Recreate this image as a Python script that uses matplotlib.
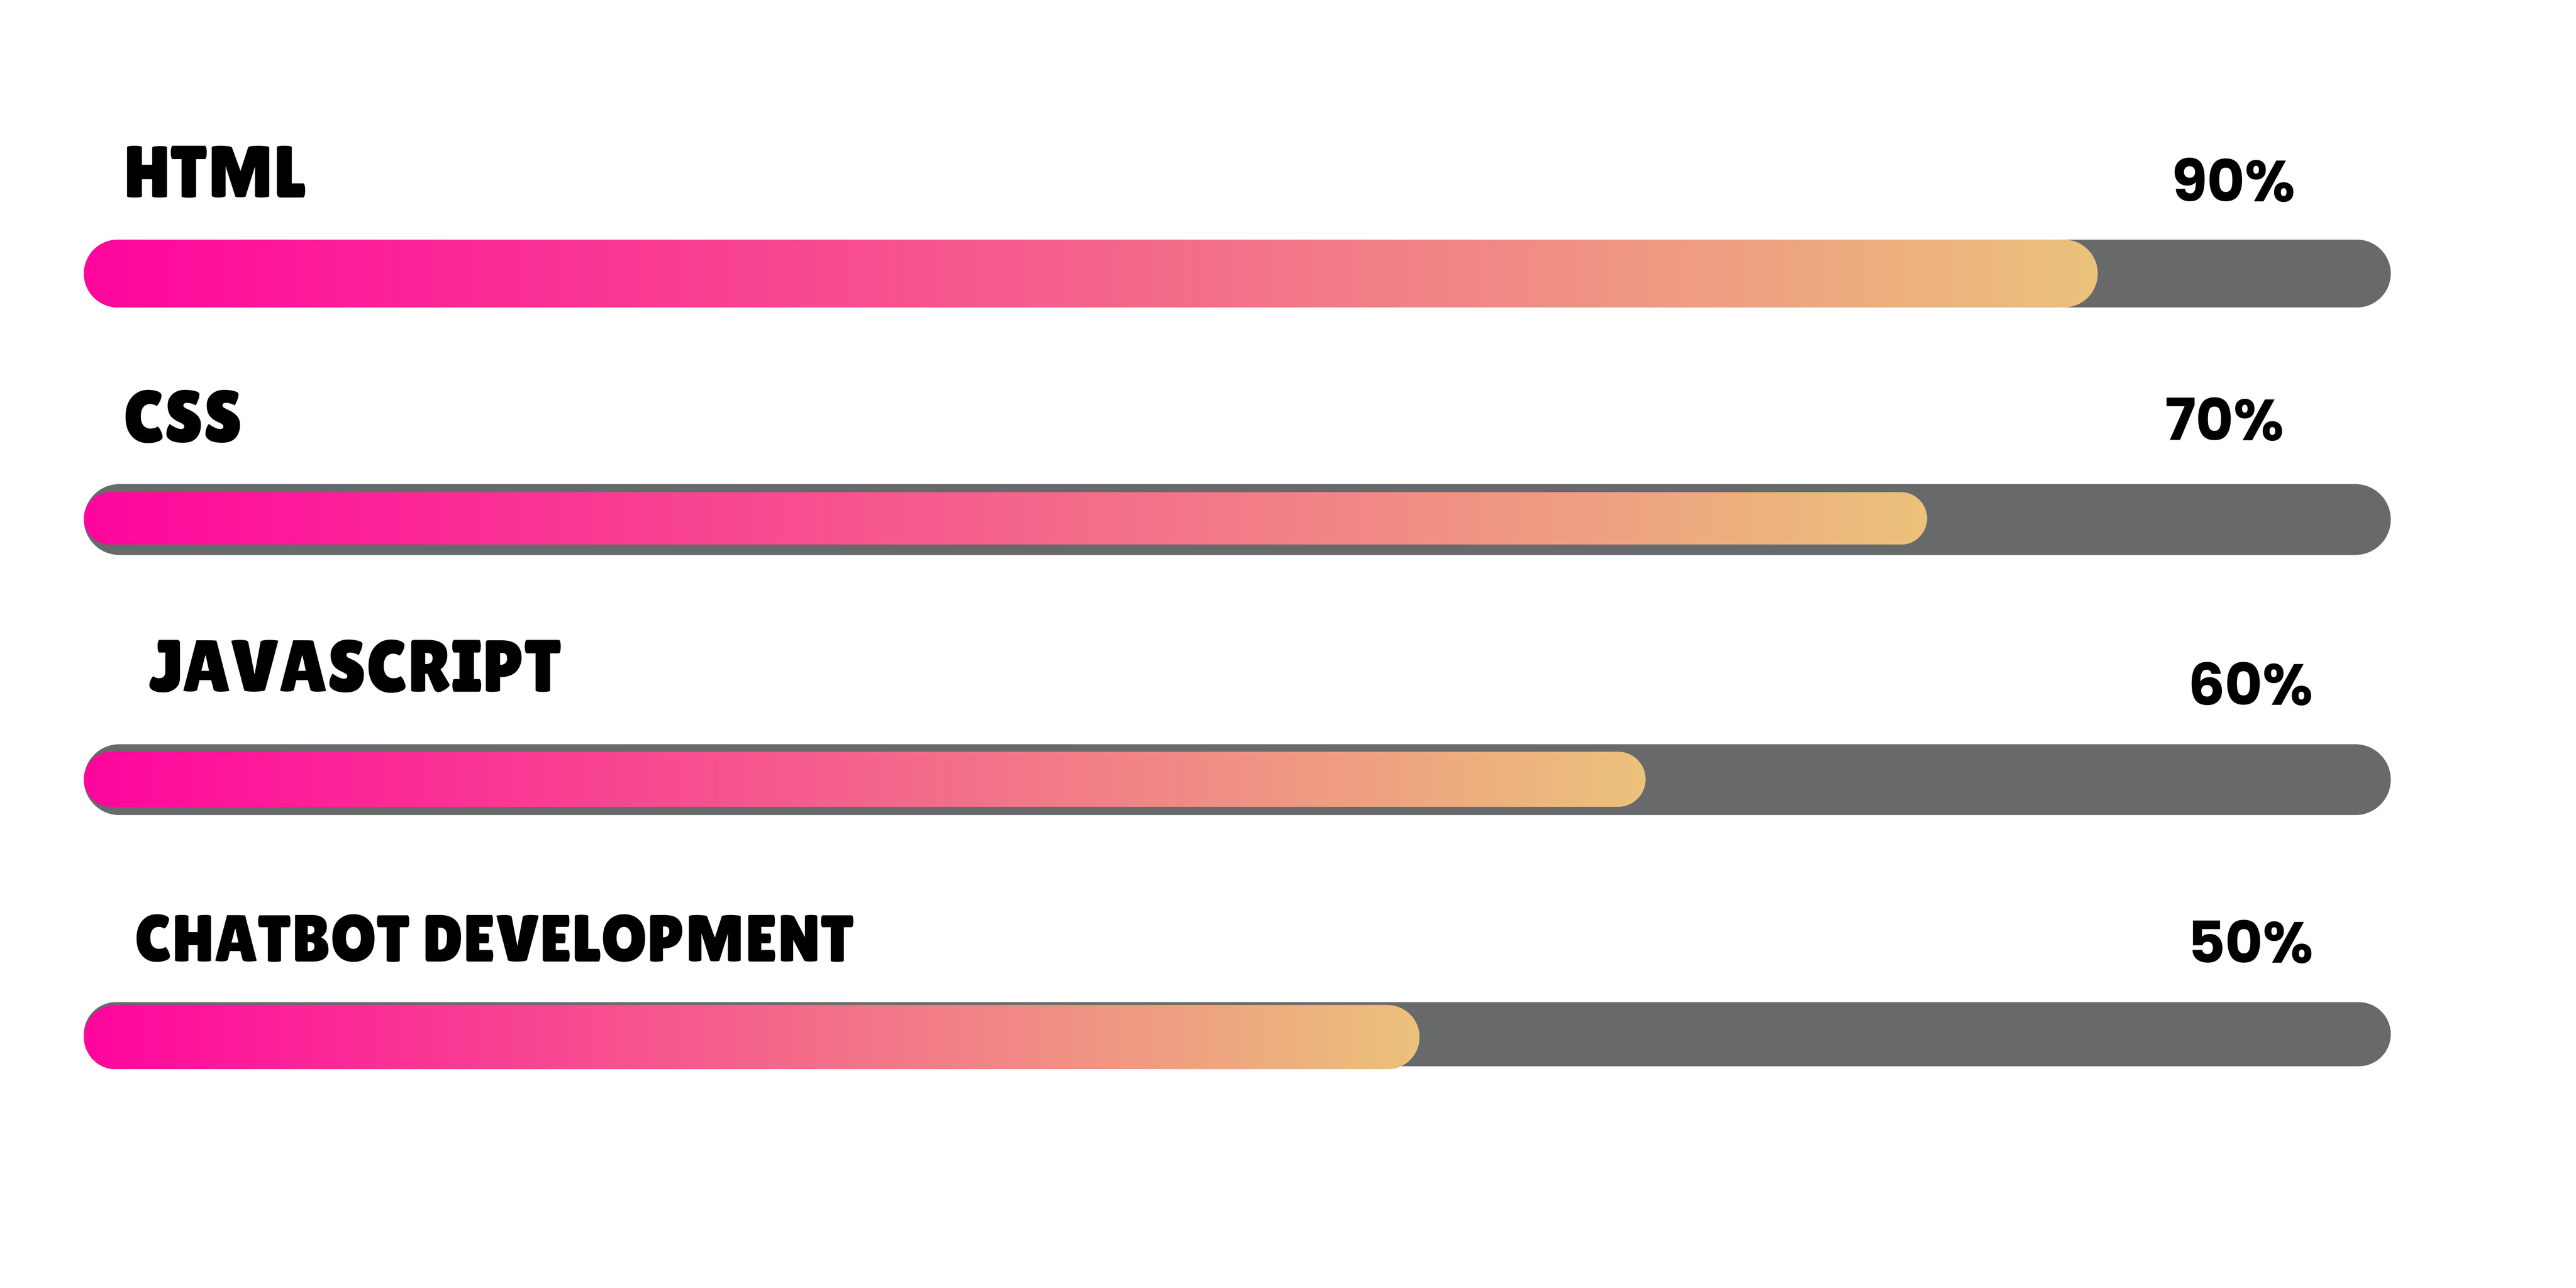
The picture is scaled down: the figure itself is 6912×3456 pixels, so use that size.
import numpy as np
import matplotlib
matplotlib.use('Agg')
import matplotlib.pyplot as plt
from matplotlib.patches import Polygon
from matplotlib.colors import LinearSegmentedColormap

skills = ['HTML', 'CSS', 'JAVASCRIPT', 'CHATBOT DEVELOPMENT']
pct_labels = ['90%', '70%', '60%', '50%']
# how far the coloured part is drawn (% of the track)
fill_values = [87.3, 79.9, 67.7, 57.9]

# layout, pixels from the top of the image
W, H = 6912, 3456
row_y = [734, 1394, 2092, 2775]
track_h = [182, 190, 190, 172]
fill_h = [182, 141, 148, 173]
fill_dy = [0, -3, -1, 8]
label_x = [1.7, 1.7, 2.8, 2.2]
label_up = [205, 208, 236, 195]
label_size = [142, 142, 142, 128]
pct_x = [90.5, 90.2, 91.2, 91.2]
pct_up = [194, 213, 201, 192]

track_col = '#68696B'
cmap = LinearSegmentedColormap.from_list('skill', ['#FF069E', '#F5648C', '#EBC27B'])
grad = np.linspace(0, 1, 512)[None, :]
label_font = ['Luckiest Guy', 'Lilita One', 'DejaVu Sans']
pct_font = ['Poppins', 'Inter', 'DejaVu Sans']

fig = plt.figure(figsize=(W / 100, H / 100), dpi=100)
fig.patch.set_facecolor('white')
track_w = 6190
ax = fig.add_axes([225 / W, 0, track_w / W, 1])
ax.axis('off')
m = track_w / 100.0  # pixels per x unit


def pill(width, yc, h, **kw):
    rx = h / 2 / m
    t = np.linspace(-np.pi / 2, np.pi / 2, 80)
    xr = width - rx + rx * np.cos(t)
    yr = yc + h / 2 * np.sin(t)
    t2 = np.linspace(np.pi / 2, 3 * np.pi / 2, 80)
    xl = rx + rx * np.cos(t2)
    yl = yc + h / 2 * np.sin(t2)
    return Polygon(np.column_stack([np.r_[xr, xl], np.r_[yr, yl]]), closed=True, **kw)


for i, name in enumerate(skills):
    y = row_y[i]
    ax.add_patch(pill(100, y, track_h[i], fc=track_col, ec='none', zorder=1))

    fh = fill_h[i]
    fy = y + fill_dy[i]
    bar = pill(fill_values[i], fy, fh, fc='none', ec='none', zorder=2)
    ax.add_patch(bar)
    im = ax.imshow(grad, cmap=cmap, aspect='auto', interpolation='bilinear',
                   extent=[0, fill_values[i], fy + fh / 2, fy - fh / 2], zorder=2)
    im.set_clip_path(bar)

    ax.text(label_x[i], y - label_up[i], name, ha='left', va='baseline',
            fontsize=label_size[i], color='black', family=label_font)
    ax.text(pct_x[i], y - pct_up[i], pct_labels[i], ha='left', va='baseline',
            fontsize=112, fontweight='bold', color='black', family=pct_font)

ax.set_xlim(0, 100)
ax.set_ylim(H, 0)

fig.savefig('out.png', dpi=100, facecolor='white')
